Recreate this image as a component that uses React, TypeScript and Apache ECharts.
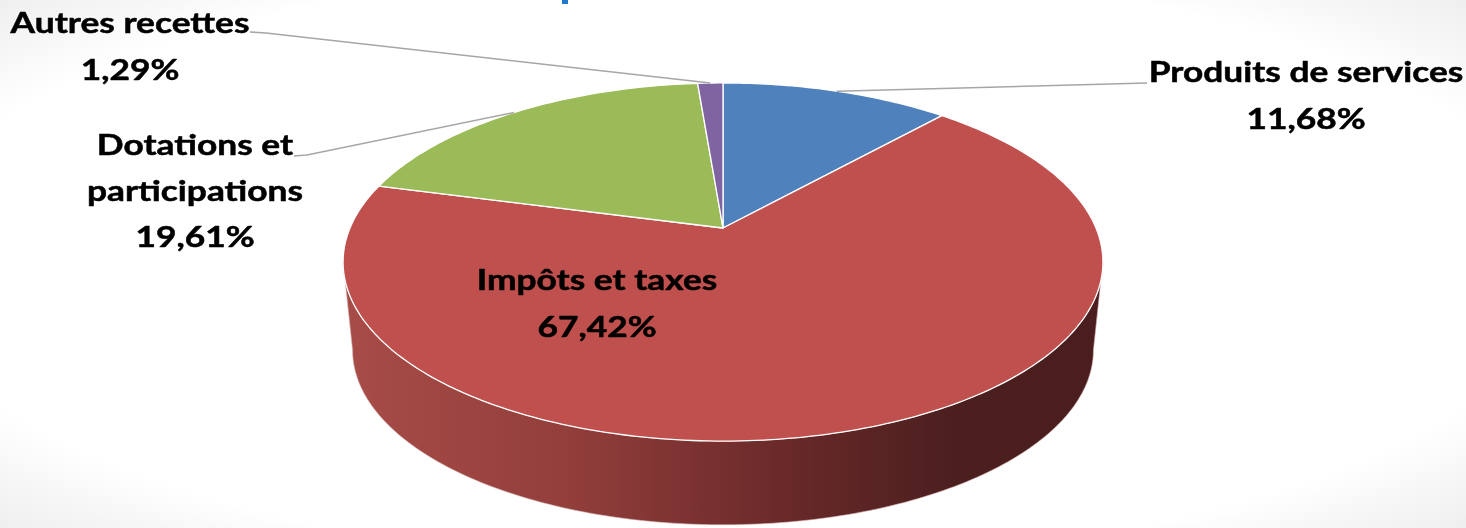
import React, { useEffect, useRef } from "react";
import * as echarts from "echarts";

// ---- data ----
const CATEGORIES = ["Produits de services", "Impôts et taxes", "Dotations et participations", "Autres recettes"];
const CATEGORY_LABELS = ["Produits de services", "Impôts et taxes", "Dotations et\nparticipations", "Autres recettes"];
const VALUES = [11.68, 67.42, 19.61, 1.29];
const COLORS = ["#4f81bd", "#c0504d", "#9bbb59", "#8064a2"];

// ---- layout (px) ----
const CX = 723; // projected centre of the pie top
const CY = 228;
const RA = 373; // horizontal radius factor
const RB = 172.6; // vertical radius factor
const K = 0.19; // perspective
const DEPTH = 89; // thickness offset of bottom face
const SB = 0.975; // bottom face scale
const LABEL_CENTERS = [
  [1306, 94],
  [597, 302],
  [195, 190],
  [130, 45],
];
const LABEL_LINE_HEIGHTS = [47, 47, 46, 47];
const LABEL_SCALE_X = 1.24;
const LEADER_STARTS: number[][][] = [
  [[1147, 83]],
  [],
  [[294, 156], [307, 155]],
  [[250, 32], [266, 33]],
];

const TOTAL = VALUES.reduce((a, b) => a + b, 0);

function proj(deg: number, bottom = false): number[] {
  const t = (deg * Math.PI) / 180;
  const u = Math.sin(t);
  const v = Math.cos(t);
  const w = 1 + K * v;
  const s = bottom ? SB : 1;
  return [CX + (s * RA * u) / w, (bottom ? CY + DEPTH : CY) - (s * RB * v) / w];
}

function arcPoints(a0: number, a1: number, bottom = false): number[][] {
  const n = Math.max(2, Math.ceil(Math.abs(a1 - a0) / 1) + 1);
  const pts: number[][] = [];
  for (let i = 0; i < n; i++) pts.push(proj(a0 + ((a1 - a0) * i) / (n - 1), bottom));
  return pts;
}

const fmt = (v: number) => v.toFixed(2).replace(".", ",") + "%";

const SIDE_R = 90 + (Math.asin(K) * 180) / Math.PI;
const SIDE_L = 270 - (Math.asin(K) * 180) / Math.PI;

function renderItem(params: any, api: any) {
  const i = params.dataIndex;
  const value = api.value(0);
  let start = 0;
  for (let j = 0; j < i; j++) start += VALUES[j];
  const a0 = (start / TOTAL) * 360;
  const a1 = ((start + value) / TOTAL) * 360;
  const children: any[] = [];

  // top face
  const top = [[CX, CY], ...arcPoints(a0, a1)];
  children.push({
    type: "polygon",
    shape: { points: top },
    style: { fill: COLORS[i], stroke: "#ffffff", lineWidth: 1.3, lineJoin: "round" },
    z2: 10,
  });

  // visible side
  const s0 = Math.max(a0, SIDE_R);
  const s1 = Math.min(a1, SIDE_L);
  if (s1 > s0) {
    const upper = arcPoints(s0, s1);
    const lower = arcPoints(s0, s1, true).reverse();
    const grad = new echarts.graphic.LinearGradient(
      CX - RA * 1.02,
      0,
      CX + RA * 1.02,
      0,
      [
        { offset: 0, color: "#a84c48" },
        { offset: 0.3, color: "#923e3b" },
        { offset: 0.6, color: "#672828" },
        { offset: 0.8, color: "#4c1f1f" },
        { offset: 1, color: "#4a1e1e" },
      ],
      true
    );
    children.push({
      type: "polygon",
      shape: { points: [...upper, ...lower] },
      style: { fill: grad, stroke: "#d9b5b4", lineWidth: 0.6 },
      z2: 1,
    });
  }

  // leader line
  const mid = (a0 + a1) / 2;
  if (LEADER_STARTS[i].length) {
    const end = proj(mid);
    children.push({
      type: "polyline",
      shape: { points: [...LEADER_STARTS[i], end] },
      style: { stroke: "#a6a6a6", lineWidth: 1.5, fill: null },
      z2: 15,
    });
  }

  // label
  children.push({
    type: "text",
    x: LABEL_CENTERS[i][0],
    y: LABEL_CENTERS[i][1],
    scaleX: LABEL_SCALE_X,
    style: {
      text: CATEGORY_LABELS[i] + "\n" + fmt(value),
      fill: "#000000",
      stroke: "#000000",
      lineWidth: 0.5,
      fontFamily: "Lato",
      fontWeight: "bold",
      fontSize: 28.5,
      lineHeight: LABEL_LINE_HEIGHTS[i],
      align: "center",
      verticalAlign: "middle",
    },
    z2: 20,
  });

  return { type: "group", children };
}

export default function App() {
  const ref = useRef<HTMLDivElement>(null);
  useEffect(() => {
    if (!ref.current) return;
    const chart = echarts.init(ref.current, null, { renderer: "svg" });
    chart.setOption({
      animation: false,
      backgroundColor: "transparent",
      graphic: [
        {
          type: "rect",
          left: 562,
          top: 0,
          shape: { width: 6, height: 4 },
          style: { fill: "#1f78c8" },
        },
      ],
      series: [
        {
          type: "custom",
          coordinateSystem: "none",
          silent: true,
          renderItem,
          data: VALUES.map((v, i) => ({ name: CATEGORIES[i], value: [v] })),
        },
      ],
    });
    return () => chart.dispose();
  }, []);
  return (
    <div
      ref={ref}
      style={{
        position: "fixed",
        left: 0,
        top: 0,
        width: "1466px",
        height: "528px",
        background: "radial-gradient(ellipse at center, #ffffff 80%, #f5f5f5 92%, #efefef 100%)",
      }}
    />
  );
}
